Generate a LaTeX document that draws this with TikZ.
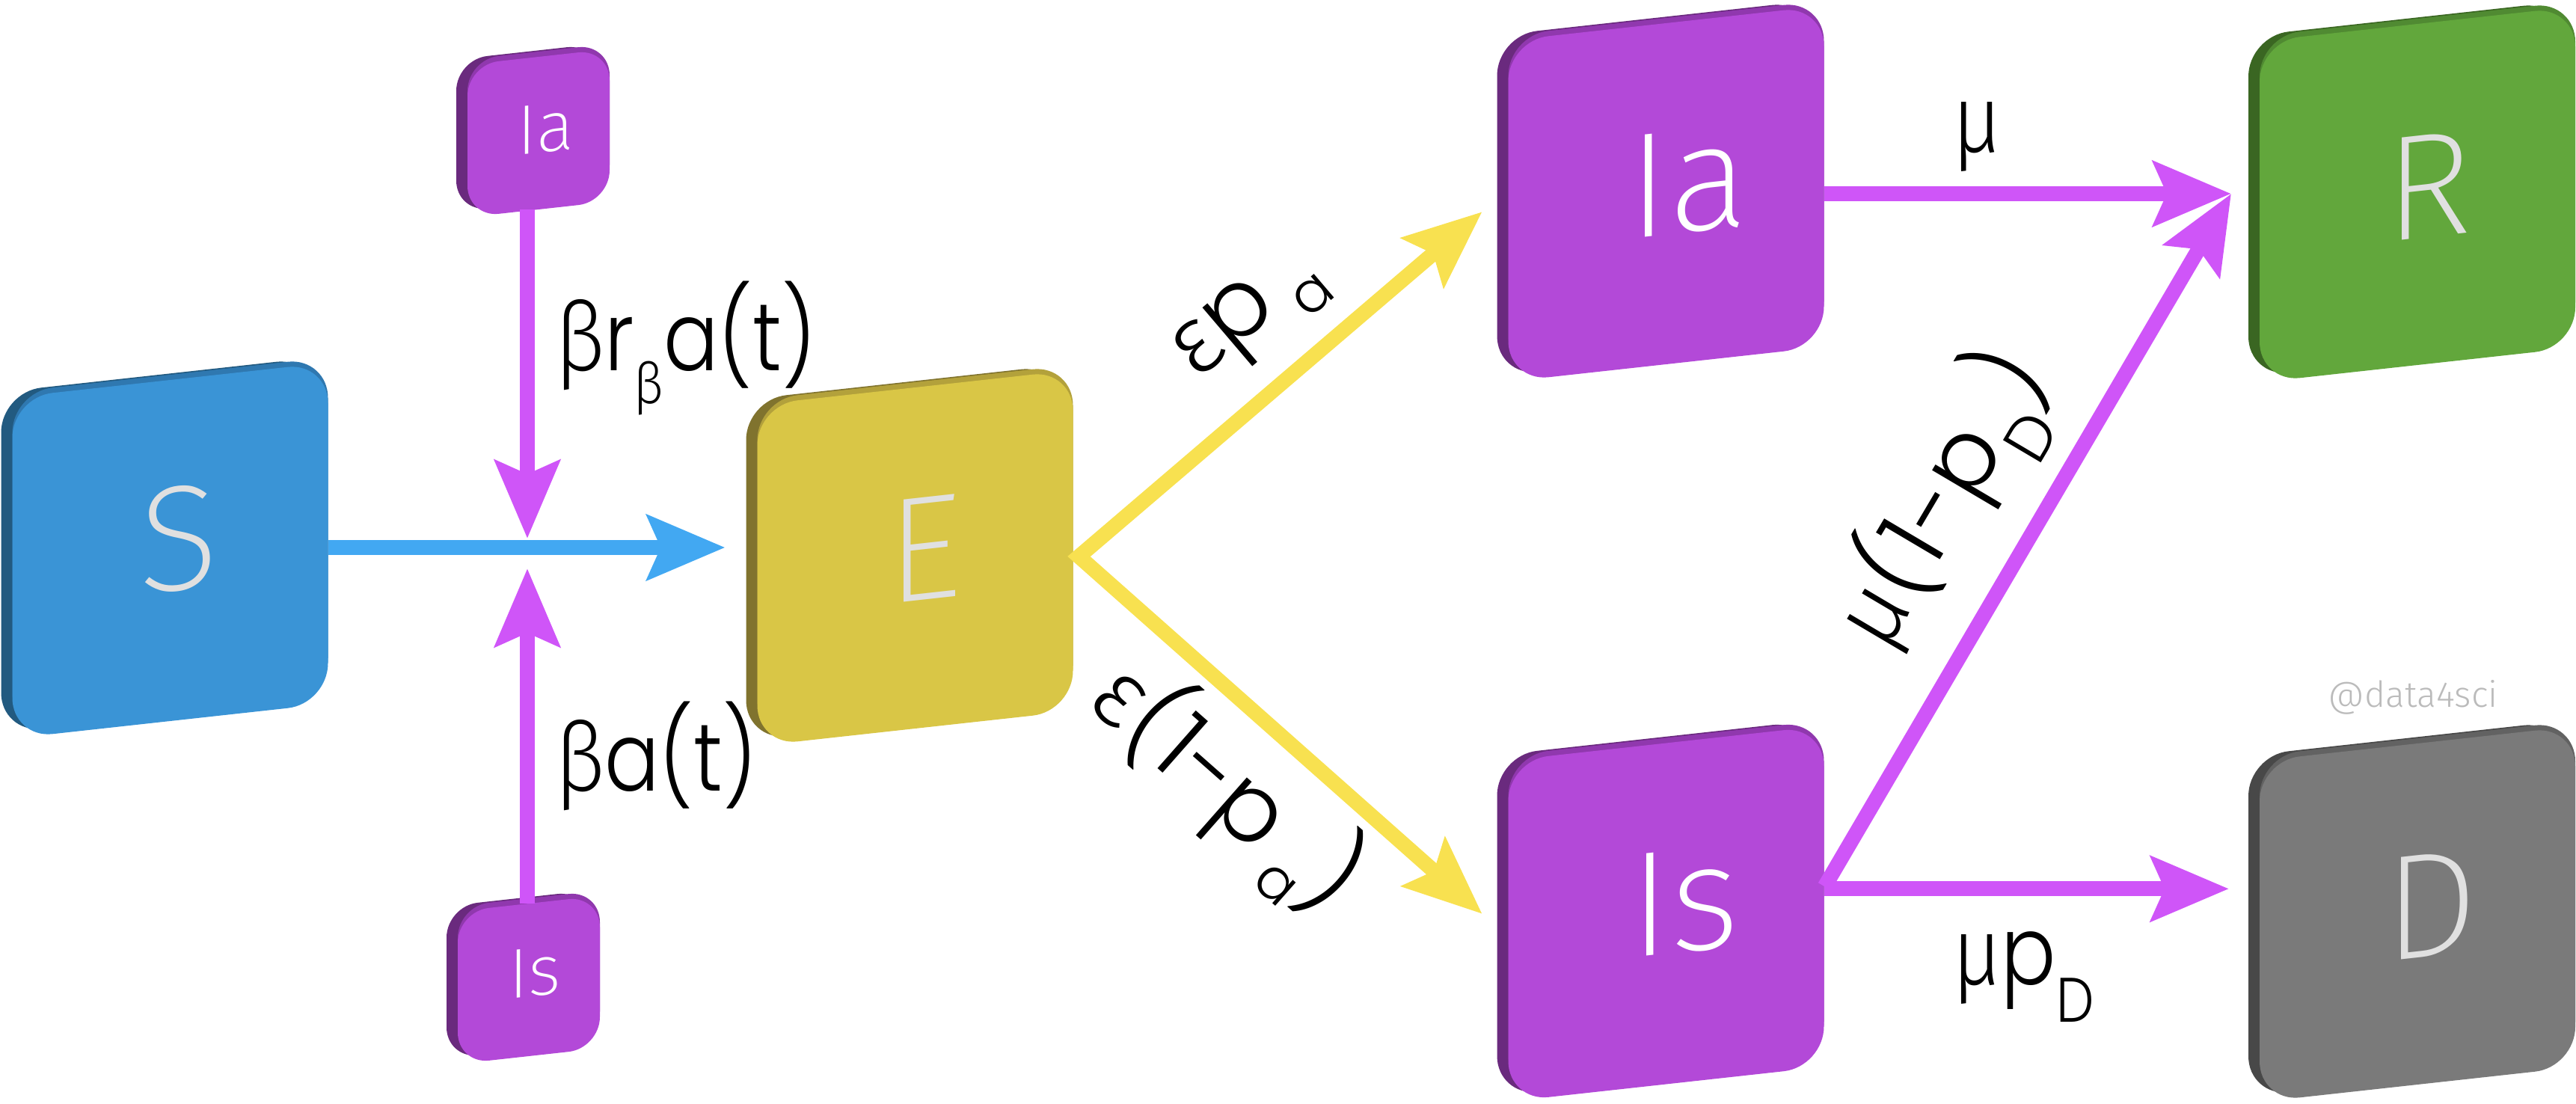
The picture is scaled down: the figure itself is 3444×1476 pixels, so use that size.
\documentclass[tikz,border=0pt]{standalone}
\usepackage{fontspec}
\usetikzlibrary{arrows.meta,calc}
\newfontfamily\boxfont{Fira Sans ExtraLight}
\newfontfamily\lblfont{Poppins Light}[FakeStretch=0.85]
\newfontfamily\rotfont{Poppins Light}
\newfontfamily\gk{Fira Sans Light}
\newfontfamily\gkn{Fira Sans Light}[FakeStretch=0.88]
\definecolor{csface}{HTML}{3A94D6}\definecolor{csside}{HTML}{225A80}\definecolor{cstop}{HTML}{2F78B0}
\definecolor{ceface}{HTML}{D9C646}\definecolor{ceside}{HTML}{80732E}\definecolor{cetop}{HTML}{B3A13B}
\definecolor{cpface}{HTML}{B349D8}\definecolor{cpside}{HTML}{6A2A7E}\definecolor{cptop}{HTML}{9038AE}
\definecolor{cgface}{HTML}{62A73C}\definecolor{cgside}{HTML}{3A6622}\definecolor{cgtop}{HTML}{508A32}
\definecolor{cdface}{HTML}{7A7A7A}\definecolor{cdside}{HTML}{484848}\definecolor{cdtop}{HTML}{626262}
\definecolor{boxtxt}{HTML}{E0E0E0}
\definecolor{barrow}{HTML}{42A8F2}\definecolor{yarrow}{HTML}{F8E150}\definecolor{parrow}{HTML}{CF55F8}
\definecolor{wmark}{HTML}{BBBBBB}
\newcommand\bxt[3]{\raisebox{#2pt}{\hspace*{#1pt}#3}}
\newcommand\lsub[3]{\raisebox{-#1pt}{\fontsize{#2}{#2}\selectfont #3}}
\begin{document}
\begin{tikzpicture}[x=0.5pt,y=-0.5pt,
  plate/.style n args={3}{fill=#1,
    preaction={fill=#2, transform canvas={shift={(-7.5pt,3.5pt)}}},
    preaction={fill=#3, transform canvas={shift={(0pt,3.5pt)}}}},
  bigbox/.style={yslant=0.11, rounded corners=27pt, inner sep=0pt, outer sep=0pt,
    minimum width=211pt, minimum height=228pt, text=boxtxt,
    font=\boxfont\fontsize{100}{100}\selectfont},
  smallbox/.style={yslant=0.11, rounded corners=21pt, inner sep=0pt, outer sep=0pt,
    minimum width=95pt, minimum height=102pt, text=white,
    font=\boxfont\fontsize{47}{47}\selectfont},
  conn/.style={line width=10pt},
  arr/.style={-{Stealth[length=52pt,width=43pt,inset=9pt]}},
  lbl/.style={inner sep=0pt, outer sep=0pt, text=black, font=\lblfont\fontsize{64}{66}\selectfont},
  rlbl/.style={inner sep=0pt, outer sep=0pt, text=black, font=\rotfont\fontsize{64}{66}\selectfont},
]
\useasboundingbox (0,0) rectangle (3444,1476);
% boxes
\node[bigbox, plate={csface}{csside}{cstop}] (S) at (227.5,736) {\bxt{12}{15}{S}};
\node[bigbox, plate={ceface}{ceside}{cetop}] (E) at (1223.5,746) {\bxt{12}{11}{E}};
\node[bigbox, plate={cpface}{cpside}{cptop}, text=white] (Ia) at (2227.5,259) {\bxt{30}{14}{Ia}};
\node[bigbox, plate={cpface}{cpside}{cptop}, text=white] (Is) at (2227.5,1221.5) {\bxt{25}{15}{Is}};
\node[bigbox, plate={cgface}{cgside}{cgtop}] (R) at (3232,260) {\bxt{15}{10}{R}};
\node[bigbox, plate={cdface}{cdside}{cdtop}] (D) at (3232,1222) {\bxt{18}{10}{D}};
\node[smallbox, plate={cpface}{cpside}{cptop}] (Ias) at (720,178) {\bxt{10}{6}{Ia}};
\node[smallbox, plate={cpface}{cpside}{cptop}] (Iss) at (707,1310) {\bxt{8}{10}{Is}};
% connectors
\coordinate (J) at (705,732);
\coordinate (isout) at ($(Is.east)+(0,-10)$);
\draw[conn, barrow, arr] (S.east |- J) -- ($(E.west |- J)+(-43,0)$);
\draw[conn, parrow, arr] (Ias.south -| J) -- ($(J)+(0,-12)$);
\draw[conn, parrow, arr] (Iss.north -| J) -- ($(J)+(0,28)$);
\draw[conn, yarrow, line join=miter, {Stealth[length=52pt,width=43pt,inset=9pt]}-{Stealth[length=52pt,width=43pt,inset=9pt]}]
  ($(Ia.west)+(-35,1)$) -- ($(E.east |- E.center)+(8,-2)$) -- ($(Is.west)+(-35,-23)$);
\draw[conn, parrow, arr] (Ia.east |- Ia.center) -- ($(R.west |- Ia.center)+(-38,0)$);
\draw[conn, parrow, arr] ($(Is.east)+(1,-13)$) -- ($(R.west |- Ia.center)+(-38,0)$);
\draw[conn, parrow, arr] (isout) -- ($(D.west |- isout)+(-41,0)$);
% labels
\node[lbl, anchor=base west] (l1) at (742,495) {{\gkn β}r\lsub{22}{38}{\gkn β}a(t)};
\node[lbl, anchor=base west] (l2) at (742,1057) {{\gkn β}a(t)};
\node[lbl, anchor=base west] (l3) at (2610,204) {{\gkn μ}};
\node[lbl, anchor=base west] (l4) at (2610,1316) {{\gkn μ}p\lsub{25}{42}{D}};
\node[rlbl, rotate=40.4] (l5) at (1672,425) {{\gk ε}p\,\lsub{17}{38}{a}};
\node[rlbl, rotate=-41.4] (l6) at (1640,1052) {{\gk ε}(1-p\,\lsub{17}{38}{a})};
\node[rlbl, rotate=59.4] (l7) at (2600,670) {{\gk μ}(1-p\lsub{25}{42}{D})};
\node[anchor=base west, inner sep=0pt, text=wmark, font=\gk\fontsize{24}{24}\selectfont] (wm) at (3112,945) {@data4sci};
\end{tikzpicture}
\end{document}
